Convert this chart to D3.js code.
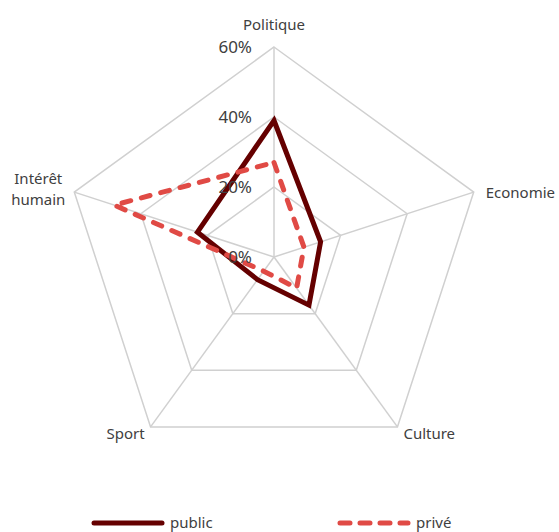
<!DOCTYPE html>
<html>
<head>
<meta charset="utf-8">
<script src="https://cdn.jsdelivr.net/npm/d3@7"></script>
<style>
  body { margin: 0; background: #fff; }
  text { font-family: "Noto Sans", "Open Sans", sans-serif; fill: #404040; }
</style>
</head>
<body>
<div id="radar"></div>
<script>
const categories = ["Politique", "Economie", "Culture", "Sport", "Intérêt humain"];
const publicValues = [0.39, 0.14, 0.17, 0.08, 0.23];
const priveValues = [0.27, 0.09, 0.11, 0.05, 0.48];
const tickValues = [0, 0.2, 0.4, 0.6];
const seriesNames = ["public", "privé"];

const width = 559;
const height = 532;
const cx = 274, cy = 257;
const radius = 210;

const r = d3.scaleLinear().domain([0, 0.6]).range([0, radius]);
const angle = d3.scalePoint().domain(categories).range([0, 2 * Math.PI * (categories.length - 1) / categories.length]);

const svg = d3
    .select('#radar')
    .append('svg')
    .attr('width', width)
    .attr('height', height);

const g = svg.append('g').attr('transform', `translate(${cx},${cy})`);

function pt(cat, v) {
    const a = angle(cat);
    return [Math.sin(a) * r(v), -Math.cos(a) * r(v)];
}

// grid rings
tickValues.filter(t => t > 0).forEach(t => {
    g.append('polygon')
        .attr('points', categories.map(c => pt(c, t).join(',')).join(' '))
        .attr('fill', 'none')
        .attr('stroke', '#d0d0d0')
        .attr('stroke-width', 1.5);
});

// spokes
g.selectAll('.spoke')
    .data(categories)
    .join('line')
    .attr('class', 'spoke')
    .attr('x1', 0).attr('y1', 0)
    .attr('x2', d => pt(d, 0.6)[0])
    .attr('y2', d => pt(d, 0.6)[1])
    .attr('stroke', '#d0d0d0')
    .attr('stroke-width', 1.5);

// series
const line = d3.lineRadial()
    .angle((d, i) => angle(categories[i]))
    .radius(d => r(d))
    .curve(d3.curveLinearClosed);

g.append('path')
    .datum(publicValues)
    .attr('d', line)
    .attr('fill', 'none')
    .attr('stroke', '#650000')
    .attr('stroke-width', 5)
    .attr('stroke-linejoin', 'miter');

g.append('path')
    .datum(priveValues)
    .attr('d', line)
    .attr('fill', 'none')
    .attr('stroke', '#E04A45')
    .attr('stroke-width', 5)
    .attr('stroke-dasharray', '9 11')
    .attr('stroke-linecap', 'round');

// tick labels
g.selectAll('.tick')
    .data(tickValues)
    .join('text')
    .attr('class', 'tick')
    .attr('x', -22)
    .attr('y', d => -r(d))
    .attr('dy', '0.35em')
    .attr('text-anchor', 'end')
    .style('font-size', '17px')
    .text(d3.format('.0%'));

// category labels
const labelPos = {
    "Politique": { dx: 0, dy: -22, anchor: 'middle' },
    "Economie": { dx: 12, dy: 1, anchor: 'start' },
    "Culture": { dx: 6, dy: 7, anchor: 'start' },
    "Sport": { dx: -6, dy: 7, anchor: 'end' },
    "Intérêt humain": { dx: -36, dy: -3, anchor: 'middle' }
};

categories.forEach(c => {
    const [x, y] = pt(c, 0.6);
    const p = labelPos[c];
    const t = g.append('text')
        .attr('text-anchor', p.anchor)
        .style('font-size', '15px');
    const words = c === "Intérêt humain" ? ["Intérêt", "humain"] : [c];
    words.forEach((w, i) => {
        t.append('tspan')
            .attr('x', x + p.dx)
            .attr('y', y + p.dy + (i - (words.length - 1) / 2) * 21)
            .attr('dy', '0.35em')
            .text(w);
    });
});

// legend
const legendX = d3.scalePoint().domain(seriesNames).range([92, 338]);
const legend = svg.append('g');
seriesNames.forEach((s, i) => {
    const x0 = legendX(s);
    legend.append('line')
        .attr('x1', x0 + 2).attr('x2', x0 + 70)
        .attr('y1', 523).attr('y2', 523)
        .attr('stroke', i === 0 ? '#650000' : '#E04A45')
        .attr('stroke-width', 5)
        .attr('stroke-linecap', 'round')
        .attr('stroke-dasharray', i === 0 ? null : '10 10');
    legend.append('text')
        .attr('x', x0 + 78)
        .attr('y', 523)
        .attr('dy', '0.35em')
        .style('font-size', '15px')
        .text(s);
});
</script>
</body>
</html>
